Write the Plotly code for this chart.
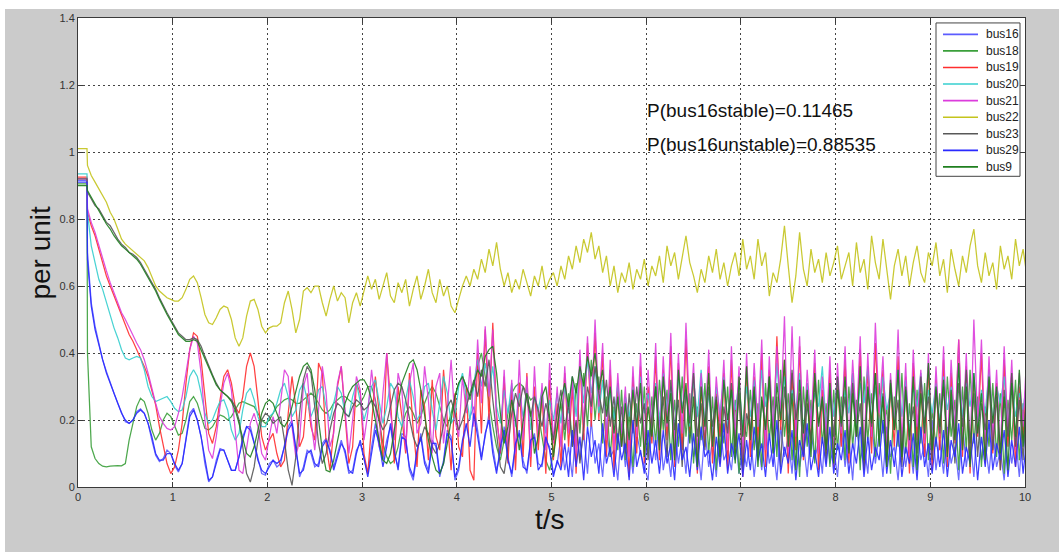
import numpy as np
import plotly.graph_objects as go

# Sample times: steady state at t = 0, fault applied at t = 0.1 s,
# post-fault samples every 0.04 s (one row below = one second of samples)
T_FAULT = 0.1
STEP = 0.04

# Pre-fault voltage of each bus (per unit)
bus16_pre = 0.915
bus18_pre = 0.905
bus19_pre = 0.925
bus20_pre = 0.935
bus21_pre = 0.92
bus22_pre = 1.01
bus23_pre = 0.92
bus29_pre = 0.91
bus9_pre = 0.90

# Post-fault voltage (per unit), from t = 0.10 s in 0.04 s steps
bus16 = [
    0.70, 0.55, 0.48, 0.43, 0.38, 0.345, 0.31, 0.28, 0.25, 0.22, 0.195, 0.19, 0.20, 0.225, 0.233, 0.22, 0.19, 0.14, 0.095, 0.076, 0.085, 0.11, 0.10, 0.065, 0.045,
    0.07, 0.15, 0.22, 0.235, 0.20, 0.15, 0.07, 0.015, 0.03, 0.08, 0.115, 0.11, 0.08, 0.05, 0.05, 0.09, 0.15, 0.18, 0.18, 0.13, 0.08, 0.04, 0.035, 0.07, 0.08,
    0.06, 0.07, 0.13, 0.18, 0.20, 0.11, 0.03, 0.06, 0.11, 0.10, 0.06, 0.07, 0.13, 0.145, 0.10, 0.06, 0.10, 0.14, 0.10, 0.04, 0.05, 0.11, 0.13, 0.08, 0.04,
    0.12, 0.19, 0.12, 0.08, 0.14, 0.18, 0.10, 0.06, 0.16, 0.15, 0.05, 0.02, 0.10, 0.16, 0.08, 0.05, 0.14, 0.12, 0.03, 0.08, 0.17, 0.15, 0.02, 0.05, 0.13,
    0.18, 0.21, 0.24, 0.17, 0.09, 0.15, 0.22, 0.12, 0.05, 0.10, 0.18, 0.09, 0.03, 0.12, 0.17, 0.08, 0.04, 0.13, 0.16, 0.07, 0.06, 0.14, 0.12, 0.04, 0.07,
    0.15, 0.05, 0.12, 0.03, 0.19, 0.08, 0.16, 0.04, 0.20, 0.07, 0.13, 0.03, 0.17, 0.09, 0.11, 0.02, 0.18, 0.06, 0.14, 0.04, 0.16, 0.10, 0.06, 0.02, 0.19,
    0.08, 0.21, 0.05, 0.12, 0.03, 0.18, 0.07, 0.15, 0.04, 0.20, 0.09, 0.13, 0.02, 0.17, 0.06, 0.14, 0.03, 0.19, 0.08, 0.11, 0.05, 0.17, 0.04, 0.12, 0.06,
    0.16, 0.03, 0.14, 0.05, 0.19, 0.07, 0.12, 0.02, 0.18, 0.09, 0.15, 0.04, 0.20, 0.06, 0.13, 0.03, 0.17, 0.08, 0.14, 0.04, 0.21, 0.07, 0.12, 0.03, 0.18,
    0.06, 0.15, 0.02, 0.19, 0.08, 0.13, 0.04, 0.20, 0.07, 0.16, 0.03, 0.18, 0.09, 0.12, 0.02, 0.17, 0.06, 0.14, 0.04, 0.19, 0.08, 0.13, 0.03, 0.20, 0.05,
    0.14, 0.04, 0.18, 0.07, 0.12, 0.02, 0.19, 0.06, 0.15, 0.03, 0.21, 0.08, 0.13, 0.04, 0.17, 0.06, 0.11, 0.02, 0.18, 0.07, 0.15, 0.03, 0.19, 0.05, 0.12,
]

bus18 = [
    0.40, 0.12, 0.085, 0.07, 0.062, 0.06, 0.062, 0.064, 0.064, 0.063, 0.07, 0.14, 0.19, 0.24, 0.265, 0.255, 0.22, 0.17, 0.14, 0.16, 0.20, 0.22, 0.21, 0.18, 0.155,
    0.16, 0.20, 0.255, 0.27, 0.25, 0.21, 0.175, 0.17, 0.18, 0.20, 0.215, 0.21, 0.20, 0.21, 0.23, 0.25, 0.255, 0.25, 0.245, 0.24, 0.22, 0.20, 0.19, 0.20, 0.22,
    0.24, 0.25, 0.26, 0.265, 0.26, 0.25, 0.25, 0.26, 0.27, 0.28, 0.27, 0.25, 0.23, 0.22, 0.23, 0.25, 0.26, 0.27, 0.27, 0.26, 0.25, 0.24, 0.25, 0.27, 0.30,
    0.30, 0.26, 0.20, 0.13, 0.09, 0.07, 0.08, 0.12, 0.18, 0.22, 0.24, 0.22, 0.19, 0.21, 0.25, 0.28, 0.30, 0.28, 0.24, 0.20, 0.18, 0.22, 0.27, 0.31, 0.33,
    0.30, 0.26, 0.30, 0.36, 0.40, 0.33, 0.25, 0.18, 0.12, 0.08, 0.14, 0.22, 0.28, 0.30, 0.31, 0.30, 0.28, 0.26, 0.27, 0.22, 0.15, 0.08, 0.05, 0.10, 0.18,
    0.25, 0.14, 0.28, 0.12, 0.31, 0.16, 0.34, 0.18, 0.38, 0.20, 0.33, 0.13, 0.27, 0.09, 0.24, 0.11, 0.29, 0.08, 0.22, 0.06, 0.25, 0.12, 0.30, 0.10, 0.27,
    0.13, 0.32, 0.17, 0.29, 0.08, 0.26, 0.12, 0.33, 0.15, 0.28, 0.07, 0.24, 0.14, 0.31, 0.10, 0.27, 0.05, 0.23, 0.13, 0.30, 0.09, 0.26, 0.04, 0.20, 0.15,
    0.29, 0.11, 0.25, 0.06, 0.31, 0.14, 0.27, 0.09, 0.35, 0.15, 0.28, 0.08, 0.24, 0.03, 0.30, 0.12, 0.26, 0.07, 0.32, 0.13, 0.25, 0.06, 0.29, 0.11, 0.27,
    0.08, 0.30, 0.12, 0.26, 0.05, 0.33, 0.14, 0.28, 0.09, 0.31, 0.16, 0.24, 0.04, 0.27, 0.12, 0.34, 0.10, 0.25, 0.06, 0.29, 0.13, 0.31, 0.08, 0.23, 0.12,
    0.28, 0.07, 0.33, 0.15, 0.26, 0.05, 0.30, 0.11, 0.35, 0.13, 0.27, 0.06, 0.24, 0.12, 0.31, 0.09, 0.28, 0.04, 0.26, 0.14, 0.32, 0.08, 0.25, 0.06, 0.22,
]

bus19 = [
    0.82, 0.78, 0.75, 0.71, 0.67, 0.63, 0.60, 0.57, 0.54, 0.51, 0.48, 0.455, 0.435, 0.41, 0.39, 0.36, 0.33, 0.29, 0.245, 0.18, 0.12, 0.07, 0.04, 0.06, 0.11,
    0.19, 0.31, 0.41, 0.46, 0.45, 0.38, 0.26, 0.16, 0.13, 0.18, 0.26, 0.33, 0.35, 0.31, 0.24, 0.22, 0.27, 0.36, 0.40, 0.36, 0.26, 0.15, 0.11, 0.14, 0.16,
    0.10, 0.06, 0.08, 0.22, 0.33, 0.24, 0.12, 0.15, 0.28, 0.18, 0.14, 0.37, 0.34, 0.13, 0.05, 0.17, 0.30, 0.36, 0.22, 0.07, 0.12, 0.31, 0.28, 0.10, 0.04,
    0.18, 0.33, 0.22, 0.09, 0.40, 0.26, 0.07, 0.30, 0.21, 0.10, 0.34, 0.17, 0.06, 0.29, 0.24, 0.08, 0.32, 0.15, 0.11, 0.35, 0.20, 0.05, 0.28, 0.12, 0.09,
    0.30, 0.05, 0.02, 0.40, 0.16, 0.47, 0.20, 0.49, 0.22, 0.10, 0.33, 0.07, 0.29, 0.05, 0.31, 0.09, 0.34, 0.06, 0.30, 0.11, 0.28, 0.04, 0.32, 0.08, 0.25,
    0.06, 0.34, 0.12, 0.30, 0.04, 0.38, 0.14, 0.43, 0.18, 0.46, 0.20, 0.40, 0.09, 0.35, 0.05, 0.31, 0.12, 0.27, 0.03, 0.33, 0.10, 0.36, 0.07, 0.30, 0.13,
    0.39, 0.08, 0.35, 0.14, 0.42, 0.06, 0.37, 0.11, 0.44, 0.16, 0.33, 0.04, 0.30, 0.12, 0.36, 0.07, 0.28, 0.15, 0.34, 0.05, 0.38, 0.10, 0.32, 0.03, 0.36,
    0.09, 0.33, 0.14, 0.40, 0.06, 0.35, 0.12, 0.45, 0.17, 0.38, 0.04, 0.34, 0.11, 0.42, 0.08, 0.31, 0.13, 0.37, 0.05, 0.29, 0.10, 0.35, 0.06, 0.33, 0.12,
    0.38, 0.07, 0.34, 0.15, 0.41, 0.05, 0.36, 0.10, 0.43, 0.18, 0.35, 0.06, 0.30, 0.12, 0.39, 0.08, 0.33, 0.04, 0.37, 0.14, 0.31, 0.09, 0.36, 0.05, 0.32,
    0.11, 0.38, 0.06, 0.34, 0.13, 0.44, 0.09, 0.36, 0.04, 0.33, 0.15, 0.40, 0.07, 0.35, 0.10, 0.31, 0.05, 0.38, 0.12, 0.34, 0.06, 0.30, 0.14, 0.37, 0.08,
]

bus20 = [
    0.82, 0.72, 0.67, 0.62, 0.59, 0.55, 0.51, 0.475, 0.445, 0.41, 0.385, 0.38, 0.385, 0.39, 0.385, 0.35, 0.30, 0.27, 0.255, 0.26, 0.265, 0.27, 0.255, 0.235, 0.225,
    0.23, 0.27, 0.33, 0.35, 0.33, 0.28, 0.22, 0.19, 0.20, 0.23, 0.255, 0.26, 0.23, 0.17, 0.14, 0.16, 0.23, 0.28, 0.295, 0.26, 0.21, 0.18, 0.18, 0.21, 0.22,
    0.25, 0.29, 0.31, 0.27, 0.21, 0.23, 0.29, 0.31, 0.26, 0.21, 0.24, 0.29, 0.30, 0.24, 0.20, 0.25, 0.30, 0.28, 0.22, 0.21, 0.27, 0.31, 0.26, 0.20, 0.24,
    0.30, 0.32, 0.25, 0.19, 0.24, 0.31, 0.29, 0.21, 0.18, 0.26, 0.32, 0.27, 0.20, 0.22, 0.30, 0.31, 0.23, 0.17, 0.25, 0.33, 0.28, 0.19, 0.21, 0.30, 0.34,
    0.27, 0.20, 0.31, 0.38, 0.30, 0.37, 0.28, 0.36, 0.24, 0.19, 0.29, 0.22, 0.31, 0.18, 0.28, 0.21, 0.30, 0.17, 0.27, 0.23, 0.29, 0.16, 0.26, 0.20, 0.28,
    0.19, 0.30, 0.22, 0.33, 0.21, 0.36, 0.25, 0.38, 0.28, 0.36, 0.22, 0.32, 0.17, 0.29, 0.20, 0.31, 0.16, 0.27, 0.21, 0.30, 0.18, 0.33, 0.22, 0.28, 0.19,
    0.31, 0.20, 0.34, 0.23, 0.30, 0.17, 0.33, 0.24, 0.29, 0.18, 0.32, 0.21, 0.35, 0.19, 0.28, 0.16, 0.30, 0.22, 0.33, 0.18, 0.29, 0.23, 0.31, 0.17, 0.30,
    0.21, 0.32, 0.18, 0.35, 0.24, 0.30, 0.17, 0.37, 0.22, 0.33, 0.19, 0.29, 0.23, 0.34, 0.16, 0.31, 0.20, 0.28, 0.24, 0.36, 0.18, 0.30, 0.21, 0.33, 0.17,
    0.29, 0.22, 0.34, 0.18, 0.31, 0.25, 0.36, 0.20, 0.30, 0.17, 0.33, 0.23, 0.28, 0.19, 0.35, 0.21, 0.32, 0.16, 0.30, 0.24, 0.34, 0.18, 0.29, 0.22, 0.31,
    0.19, 0.33, 0.23, 0.30, 0.17, 0.36, 0.21, 0.31, 0.24, 0.34, 0.18, 0.29, 0.22, 0.35, 0.19, 0.30, 0.25, 0.33, 0.17, 0.31, 0.21, 0.28, 0.23, 0.32, 0.18,
]

bus21 = [
    0.83, 0.79, 0.76, 0.72, 0.68, 0.645, 0.61, 0.58, 0.55, 0.52, 0.50, 0.475, 0.455, 0.43, 0.41, 0.38, 0.34, 0.29, 0.25, 0.21, 0.19, 0.175, 0.17, 0.18, 0.22,
    0.27, 0.34, 0.41, 0.45, 0.43, 0.34, 0.20, 0.11, 0.085, 0.15, 0.24, 0.31, 0.34, 0.29, 0.18, 0.05, 0.04, 0.12, 0.19, 0.22, 0.18, 0.10, 0.08, 0.15, 0.21,
    0.16, 0.26, 0.35, 0.33, 0.18, 0.09, 0.14, 0.30, 0.34, 0.20, 0.11, 0.23, 0.36, 0.28, 0.12, 0.16, 0.31, 0.36, 0.24, 0.10, 0.20, 0.33, 0.29, 0.14, 0.22,
    0.35, 0.25, 0.12, 0.28, 0.40, 0.22, 0.14, 0.34, 0.29, 0.11, 0.31, 0.37, 0.16, 0.19, 0.36, 0.26, 0.10, 0.30, 0.34, 0.13, 0.24, 0.38, 0.20, 0.15, 0.33,
    0.22, 0.36, 0.18, 0.44, 0.25, 0.48, 0.27, 0.47, 0.19, 0.13, 0.35, 0.12, 0.32, 0.10, 0.38, 0.14, 0.33, 0.09, 0.36, 0.15, 0.31, 0.11, 0.37, 0.13, 0.30,
    0.12, 0.36, 0.16, 0.33, 0.10, 0.41, 0.18, 0.45, 0.22, 0.50, 0.24, 0.43, 0.14, 0.38, 0.11, 0.34, 0.16, 0.30, 0.09, 0.36, 0.15, 0.40, 0.12, 0.35, 0.17,
    0.43, 0.13, 0.39, 0.18, 0.46, 0.11, 0.40, 0.16, 0.49, 0.20, 0.37, 0.10, 0.34, 0.17, 0.41, 0.12, 0.33, 0.19, 0.38, 0.11, 0.42, 0.15, 0.36, 0.09, 0.40,
    0.14, 0.37, 0.18, 0.44, 0.11, 0.39, 0.16, 0.42, 0.21, 0.51, 0.10, 0.48, 0.15, 0.45, 0.12, 0.35, 0.18, 0.41, 0.10, 0.33, 0.15, 0.39, 0.11, 0.37, 0.16,
    0.42, 0.12, 0.38, 0.19, 0.45, 0.10, 0.40, 0.15, 0.49, 0.22, 0.39, 0.11, 0.34, 0.17, 0.47, 0.13, 0.37, 0.09, 0.41, 0.18, 0.35, 0.13, 0.40, 0.10, 0.36,
    0.15, 0.42, 0.11, 0.38, 0.17, 0.44, 0.14, 0.40, 0.09, 0.50, 0.19, 0.44, 0.12, 0.39, 0.15, 0.35, 0.10, 0.42, 0.16, 0.38, 0.11, 0.34, 0.18, 0.41, 0.12,
]

bus22 = [
    0.96, 0.93, 0.91, 0.89, 0.87, 0.85, 0.82, 0.80, 0.77, 0.74, 0.725, 0.715, 0.705, 0.695, 0.685, 0.675, 0.655, 0.63, 0.60, 0.585, 0.575, 0.565, 0.56, 0.555, 0.555,
    0.565, 0.59, 0.62, 0.63, 0.61, 0.565, 0.515, 0.49, 0.485, 0.505, 0.53, 0.54, 0.535, 0.50, 0.445, 0.42, 0.445, 0.51, 0.555, 0.56, 0.53, 0.48, 0.46, 0.475, 0.48,
    0.48, 0.49, 0.55, 0.585, 0.53, 0.46, 0.50, 0.585, 0.595, 0.58, 0.60, 0.60, 0.55, 0.51, 0.56, 0.60, 0.555, 0.58, 0.565, 0.49, 0.55, 0.58, 0.54, 0.59, 0.63,
    0.59, 0.62, 0.56, 0.60, 0.64, 0.57, 0.55, 0.61, 0.58, 0.62, 0.54, 0.59, 0.63, 0.56, 0.60, 0.65, 0.58, 0.55, 0.62, 0.57, 0.60, 0.54, 0.52, 0.56, 0.60,
    0.63, 0.60, 0.65, 0.62, 0.68, 0.64, 0.71, 0.66, 0.73, 0.65, 0.60, 0.64, 0.58, 0.62, 0.59, 0.65, 0.61, 0.57, 0.63, 0.60, 0.66, 0.59, 0.62, 0.64, 0.60,
    0.66, 0.62, 0.69, 0.65, 0.72, 0.67, 0.74, 0.70, 0.76, 0.68, 0.72, 0.64, 0.69, 0.60, 0.66, 0.58, 0.64, 0.61, 0.67, 0.59, 0.65, 0.62, 0.68, 0.60, 0.66,
    0.63, 0.69, 0.61, 0.72, 0.66, 0.70, 0.62, 0.68, 0.75, 0.67, 0.63, 0.58, 0.65, 0.61, 0.69, 0.64, 0.71, 0.62, 0.67, 0.60, 0.66, 0.70, 0.63, 0.74, 0.65,
    0.69, 0.62, 0.74, 0.66, 0.70, 0.57, 0.64, 0.61, 0.68, 0.78, 0.66, 0.55, 0.63, 0.76, 0.65, 0.60, 0.71, 0.64, 0.68, 0.61, 0.70, 0.63, 0.67, 0.72, 0.62,
    0.66, 0.70, 0.60, 0.73, 0.64, 0.68, 0.59, 0.75, 0.67, 0.62, 0.74, 0.65, 0.56, 0.66, 0.71, 0.63, 0.69, 0.60, 0.67, 0.72, 0.64, 0.61, 0.70, 0.66, 0.73,
    0.63, 0.68, 0.58, 0.71, 0.65, 0.60, 0.69, 0.64, 0.72, 0.77, 0.66, 0.61, 0.70, 0.63, 0.67, 0.59, 0.72, 0.65, 0.69, 0.62, 0.74, 0.66, 0.71, 0.63, 0.67,
]

bus23 = [
    0.88, 0.86, 0.84, 0.83, 0.81, 0.79, 0.78, 0.76, 0.74, 0.725, 0.715, 0.70, 0.695, 0.685, 0.67, 0.65, 0.63, 0.61, 0.59, 0.565, 0.54, 0.52, 0.50, 0.48, 0.46,
    0.45, 0.44, 0.44, 0.445, 0.44, 0.42, 0.39, 0.36, 0.335, 0.31, 0.29, 0.28, 0.27, 0.26, 0.24, 0.20, 0.12, 0.04, 0.015, 0.06, 0.14, 0.20, 0.22, 0.21, 0.19,
    0.20, 0.21, 0.14, 0.05, 0.005, 0.09, 0.22, 0.32, 0.36, 0.34, 0.24, 0.13, 0.07, 0.10, 0.17, 0.22, 0.25, 0.24, 0.22, 0.21, 0.24, 0.26, 0.25, 0.23, 0.24,
    0.26, 0.24, 0.20, 0.17, 0.19, 0.24, 0.29, 0.31, 0.30, 0.26, 0.20, 0.15, 0.12, 0.14, 0.18, 0.16, 0.12, 0.10, 0.13, 0.19, 0.24, 0.26, 0.22, 0.17, 0.20,
    0.24, 0.28, 0.32, 0.27, 0.35, 0.30, 0.38, 0.26, 0.15, 0.06, 0.04, 0.12, 0.22, 0.28, 0.24, 0.30, 0.26, 0.21, 0.27, 0.23, 0.18, 0.25, 0.20, 0.14, 0.22,
    0.29, 0.17, 0.25, 0.12, 0.20, 0.07, 0.18, 0.30, 0.24, 0.36, 0.28, 0.22, 0.32, 0.18, 0.27, 0.13, 0.24, 0.10, 0.28, 0.16, 0.30, 0.19, 0.25, 0.08, 0.21,
    0.30, 0.14, 0.27, 0.09, 0.32, 0.17, 0.26, 0.06, 0.29, 0.19, 0.34, 0.15, 0.25, 0.11, 0.30, 0.18, 0.27, 0.07, 0.24, 0.16, 0.31, 0.12, 0.28, 0.05, 0.22,
    0.17, 0.29, 0.10, 0.26, 0.18, 0.33, 0.13, 0.27, 0.06, 0.30, 0.16, 0.35, 0.20, 0.28, 0.09, 0.25, 0.14, 0.31, 0.19, 0.26, 0.07, 0.29, 0.15, 0.33, 0.18,
    0.27, 0.11, 0.31, 0.16, 0.25, 0.05, 0.29, 0.18, 0.34, 0.14, 0.28, 0.09, 0.32, 0.17, 0.26, 0.06, 0.30, 0.15, 0.24, 0.10, 0.33, 0.19, 0.27, 0.08, 0.29,
    0.16, 0.30, 0.12, 0.26, 0.07, 0.31, 0.18, 0.35, 0.13, 0.28, 0.09, 0.25, 0.17, 0.32, 0.11, 0.27, 0.05, 0.29, 0.15, 0.34, 0.12, 0.26, 0.08, 0.30, 0.14,
]

bus29 = [
    0.68, 0.54, 0.47, 0.42, 0.38, 0.34, 0.31, 0.28, 0.25, 0.22, 0.20, 0.19, 0.20, 0.22, 0.23, 0.22, 0.19, 0.15, 0.10, 0.08, 0.08, 0.10, 0.10, 0.07, 0.05,
    0.07, 0.14, 0.21, 0.23, 0.20, 0.15, 0.08, 0.02, 0.03, 0.07, 0.11, 0.11, 0.08, 0.05, 0.05, 0.09, 0.14, 0.18, 0.17, 0.13, 0.08, 0.05, 0.04, 0.06, 0.08,
    0.07, 0.08, 0.12, 0.17, 0.19, 0.12, 0.04, 0.05, 0.10, 0.11, 0.07, 0.06, 0.12, 0.14, 0.11, 0.05, 0.09, 0.13, 0.11, 0.05, 0.04, 0.10, 0.14, 0.09, 0.03,
    0.10, 0.17, 0.13, 0.06, 0.12, 0.19, 0.11, 0.05, 0.15, 0.14, 0.06, 0.03, 0.11, 0.15, 0.07, 0.04, 0.13, 0.13, 0.04, 0.07, 0.16, 0.14, 0.03, 0.06, 0.14,
    0.19, 0.12, 0.22, 0.15, 0.08, 0.16, 0.20, 0.10, 0.04, 0.12, 0.17, 0.08, 0.04, 0.13, 0.16, 0.06, 0.05, 0.14, 0.15, 0.05, 0.07, 0.15, 0.11, 0.03, 0.08,
    0.05, 0.13, 0.03, 0.17, 0.06, 0.15, 0.02, 0.18, 0.09, 0.14, 0.04, 0.19, 0.07, 0.12, 0.03, 0.16, 0.08, 0.13, 0.02, 0.20, 0.06, 0.11, 0.04, 0.17, 0.07,
    0.14, 0.04, 0.17, 0.07, 0.13, 0.02, 0.19, 0.08, 0.12, 0.03, 0.16, 0.05, 0.18, 0.09, 0.11, 0.02, 0.15, 0.06, 0.19, 0.04, 0.13, 0.08, 0.16, 0.03, 0.14,
    0.05, 0.18, 0.08, 0.13, 0.03, 0.16, 0.06, 0.20, 0.04, 0.12, 0.07, 0.17, 0.02, 0.14, 0.09, 0.19, 0.05, 0.11, 0.03, 0.15, 0.06, 0.18, 0.04, 0.13, 0.08,
    0.17, 0.04, 0.13, 0.07, 0.18, 0.03, 0.15, 0.05, 0.12, 0.08, 0.20, 0.04, 0.14, 0.06, 0.17, 0.03, 0.12, 0.07, 0.16, 0.02, 0.18, 0.06, 0.13, 0.04, 0.15,
    0.06, 0.17, 0.03, 0.14, 0.09, 0.19, 0.04, 0.12, 0.07, 0.16, 0.02, 0.15, 0.06, 0.20, 0.05, 0.13, 0.08, 0.17, 0.03, 0.14, 0.06, 0.18, 0.04, 0.15, 0.02,
]

bus9 = [
    0.885, 0.865, 0.845, 0.825, 0.805, 0.785, 0.77, 0.75, 0.735, 0.72, 0.71, 0.70, 0.69, 0.68, 0.665, 0.645, 0.625, 0.605, 0.585, 0.56, 0.535, 0.515, 0.495, 0.475, 0.455,
    0.445, 0.435, 0.435, 0.44, 0.435, 0.41, 0.385, 0.355, 0.33, 0.305, 0.29, 0.28, 0.27, 0.255, 0.23, 0.19, 0.14, 0.10, 0.09, 0.12, 0.17, 0.22, 0.25, 0.26, 0.25,
    0.22, 0.19, 0.18, 0.20, 0.24, 0.29, 0.33, 0.36, 0.37, 0.35, 0.29, 0.20, 0.11, 0.05, 0.045, 0.08, 0.14, 0.20, 0.25, 0.28, 0.30, 0.31, 0.32, 0.32, 0.30,
    0.26, 0.20, 0.13, 0.08, 0.07, 0.10, 0.17, 0.25, 0.31, 0.34, 0.37, 0.38, 0.35, 0.29, 0.21, 0.14, 0.09, 0.05, 0.04, 0.07, 0.13, 0.20, 0.27, 0.31, 0.33,
    0.30, 0.27, 0.31, 0.35, 0.33, 0.39, 0.41, 0.42, 0.34, 0.22, 0.13, 0.18, 0.26, 0.20, 0.11, 0.19, 0.28, 0.22, 0.10, 0.15, 0.27, 0.30, 0.21, 0.09, 0.17,
    0.26, 0.31, 0.24, 0.33, 0.28, 0.36, 0.30, 0.39, 0.33, 0.40, 0.29, 0.35, 0.21, 0.30, 0.16, 0.27, 0.12, 0.25, 0.14, 0.29, 0.18, 0.31, 0.09, 0.24, 0.15,
    0.30, 0.11, 0.33, 0.19, 0.28, 0.08, 0.35, 0.22, 0.31, 0.13, 0.27, 0.06, 0.30, 0.18, 0.34, 0.12, 0.26, 0.09, 0.32, 0.20, 0.29, 0.07, 0.33, 0.15, 0.36,
    0.14, 0.30, 0.06, 0.27, 0.17, 0.33, 0.10, 0.31, 0.20, 0.38, 0.12, 0.28, 0.05, 0.32, 0.16, 0.29, 0.09, 0.34, 0.18, 0.27, 0.11, 0.31, 0.07, 0.29, 0.19,
    0.33, 0.10, 0.28, 0.15, 0.36, 0.08, 0.30, 0.19, 0.34, 0.12, 0.27, 0.06, 0.31, 0.17, 0.35, 0.09, 0.29, 0.14, 0.33, 0.05, 0.28, 0.16, 0.37, 0.11, 0.30,
    0.18, 0.32, 0.09, 0.29, 0.14, 0.37, 0.11, 0.30, 0.06, 0.34, 0.16, 0.28, 0.08, 0.33, 0.19, 0.30, 0.10, 0.27, 0.05, 0.31, 0.15, 0.35, 0.12, 0.29, 0.07,
]

bus_names = ["bus16", "bus18", "bus19", "bus20", "bus21", "bus22", "bus23", "bus29", "bus9"]
bus_pre = [bus16_pre, bus18_pre, bus19_pre, bus20_pre, bus21_pre, bus22_pre, bus23_pre, bus29_pre, bus9_pre]
bus_post = [bus16, bus18, bus19, bus20, bus21, bus22, bus23, bus29, bus9]
bus_colors = ["#5c5cff", "#3a9f3a", "#ff2e2e", "#36cfcf", "#dc3cdc",
              "#c4c41c", "#585858", "#2a2aff", "#1f7f1f"]

x_ticks = [0, 1, 2, 3, 4, 5, 6, 7, 8, 9, 10]
y_ticks = [0, 0.2, 0.4, 0.6, 0.8, 1.0, 1.2, 1.4]
y_tick_text = ["0", "0.2", "0.4", "0.6", "0.8", "1", "1.2", "1.4"]

notes = ["P(bus16stable)=0.11465", "P(bus16unstable)=0.88535"]

FONT = "Liberation Sans, Arial, sans-serif"

fig = go.Figure()
for name, pre, post, color in zip(bus_names, bus_pre, bus_post, bus_colors):
    t_post = np.round(T_FAULT + STEP * np.arange(len(post)), 3)
    t = np.concatenate([[0.0, T_FAULT - 0.005], t_post])
    v = np.concatenate([[pre, pre], post])
    fig.add_trace(go.Scatter(
        x=t, y=v, mode="lines", name=name,
        line=dict(color=color, width=1.25),
        opacity=0.9, showlegend=False,
    ))

tick_font = dict(family=FONT, size=11, color="#333333")
axis_common = dict(
    showline=True, linecolor="#3a3a3a", linewidth=1, mirror="ticks",
    ticks="inside", ticklen=5, tickcolor="#3a3a3a", tickwidth=1,
    showgrid=True, gridcolor="#444444", gridwidth=1, griddash="2px,3px",
    zeroline=False, tickfont=tick_font,
)

fig.update_xaxes(range=[0, 10], tickvals=x_ticks, **axis_common)
fig.update_yaxes(range=[0, 1.4], tickvals=y_ticks, ticktext=y_tick_text, **axis_common)

for text, yv in zip(notes, [1.125, 1.022]):
    fig.add_annotation(
        x=5.99, y=yv, xref="x", yref="y", text=text, showarrow=False,
        xanchor="left", yanchor="middle",
        font=dict(family=FONT, size=19, color="#111111"),
    )

# Axis titles
fig.add_annotation(
    x=-0.04, y=0.5, xref="paper", yref="paper", text="per unit", textangle=-90,
    showarrow=False, xanchor="center", yanchor="middle",
    font=dict(family=FONT, size=28, color="#111111"),
)
fig.add_annotation(
    x=0.498, y=-0.07, xref="paper", yref="paper", text="t/s",
    showarrow=False, xanchor="center", yanchor="middle",
    font=dict(family=FONT, size=28, color="#111111"),
)

# Legend box drawn in paper coordinates (one row per bus)
def px_x(px):
    return (px - 78) / 947.0


def px_y(py):
    return (487 - py) / 474.0


fig.add_shape(type="rect", xref="paper", yref="paper",
              x0=px_x(936), x1=px_x(1020), y0=px_y(173), y1=px_y(18),
              fillcolor="white", line=dict(color="#444444", width=1), layer="above")
for i, (name, color) in enumerate(zip(bus_names, bus_colors)):
    row_y = px_y(29.5 + 16.75 * i)
    fig.add_shape(type="line", xref="paper", yref="paper",
                  x0=px_x(943), x1=px_x(978), y0=row_y, y1=row_y,
                  line=dict(color=color, width=1.6), layer="above")
    fig.add_annotation(x=px_x(984), y=row_y, xref="paper", yref="paper",
                       text=name, showarrow=False, xanchor="left", yanchor="middle",
                       font=dict(family=FONT, size=12, color="#222222"))

# Thin white page border along the left and top edges
fig.add_shape(type="rect", xref="paper", yref="paper", x0=-0.1, x1=px_x(5),
              y0=-0.2, y1=1.1, fillcolor="white", line_width=0, layer="above")
fig.add_shape(type="rect", xref="paper", yref="paper", x0=-0.1, x1=1.1,
              y0=px_y(4), y1=1.1, fillcolor="white", line_width=0, layer="above")

fig.update_layout(
    width=1059, height=552,
    margin=dict(l=78, r=34, t=13, b=65),
    paper_bgcolor="#cbcbcb", plot_bgcolor="white",
    showlegend=False,
)

fig.write_html("out.html")
